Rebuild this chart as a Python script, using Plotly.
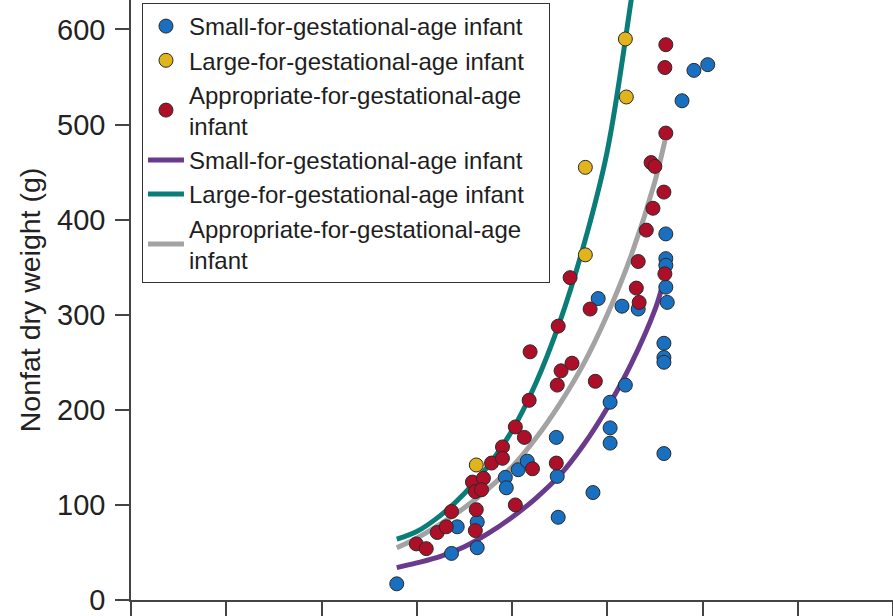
import plotly.graph_objects as go

# ---- data (gestational age in weeks, nonfat dry weight in g) ----
sga_x = [29.58, 30.73, 30.85, 31.27, 31.27, 31.86, 31.88, 32.13, 32.32, 32.93, 32.95, 32.97,
         33.70, 34.06, 34.06, 34.06, 34.38, 33.81, 34.31, 34.65, 35.23, 35.23, 35.23, 35.23,
         35.26, 35.19, 35.19, 35.19, 35.19, 35.57, 35.82, 36.11]
sga_y = [17, 49, 77, 55, 82, 129, 118, 137, 146, 171, 130, 87,
         113, 208, 181, 165, 226, 317, 309, 306, 385, 359, 352, 329,
         313, 270, 255, 250, 154, 525, 557, 563]

lga_x = [31.25, 33.54, 33.54, 34.38, 34.40]
lga_y = [142, 363, 455, 590, 529]

aga_x = [29.99, 30.20, 30.43, 30.62, 30.73, 31.17, 31.40, 31.23, 31.36, 31.25, 31.23, 31.57,
         31.80, 31.80, 32.07, 32.07, 32.26, 32.36, 32.43, 32.93, 32.38, 32.97, 33.03, 33.26,
         32.95, 33.22, 33.64, 33.75, 34.67, 34.61, 34.65, 34.82, 34.96, 34.92, 35.00, 35.19,
         35.21, 35.23, 35.21, 35.23]
aga_y = [59, 54, 71, 77, 93, 124, 128, 114, 116, 95, 73, 144,
         161, 149, 100, 182, 171, 210, 138, 144, 261, 288, 241, 249,
         226, 339, 306, 230, 313, 328, 356, 389, 412, 460, 456, 429,
         343, 491, 560, 584]

sga_curve_x = [29.58, 30.0, 30.5, 31.0, 31.5, 32.0, 32.5, 33.0, 33.5, 34.0, 34.5, 35.0, 35.15]
sga_curve_y = [34, 39, 46, 56, 70, 87, 107, 131, 163, 202, 248, 305, 329]

lga_curve_x = [29.58, 30.0, 30.5, 31.0, 31.5, 32.0, 32.5, 33.0, 33.5, 34.0, 34.5, 34.7]
lga_curve_y = [64, 72, 89, 112, 141, 178, 228, 292, 372, 472, 630, 700]

aga_curve_x = [29.58, 30.0, 30.5, 31.0, 31.5, 32.0, 32.5, 33.0, 33.5, 34.0, 34.5, 35.0, 35.21]
aga_curve_y = [55, 65, 80, 97, 117, 140, 170, 206, 248, 300, 362, 440, 483]

PAD = "&nbsp;&nbsp;&nbsp;"
names = ["Small-for-gestational-age infant" + PAD,
         "Large-for-gestational-age infant" + PAD,
         "Appropriate-for-gestational-age<br>infant"]

x_ticks = [24, 26, 28, 30, 32, 34, 36, 38, 40]
y_ticks = [0, 100, 200, 300, 400, 500, 600]

BLUE = "#1a70c0"
GOLD = "#e2b41c"
RED = "#ad0f29"
PURPLE = "#6a3b8c"
TEAL = "#0b7d78"
GREY = "#a3a3a3"

fig = go.Figure()

# curves first (drawn beneath markers)
for cx, cy, col, nm, rk in [(sga_curve_x, sga_curve_y, PURPLE, names[0], 4),
                            (lga_curve_x, lga_curve_y, TEAL, names[1], 5),
                            (aga_curve_x, aga_curve_y, GREY, names[2], 6)]:
    fig.add_trace(go.Scatter(x=cx, y=cy, mode="lines", name=nm, legendrank=rk,
                             line=dict(color=col, width=5, shape="spline")))

for px, py, col, nm, rk in [(sga_x, sga_y, BLUE, names[0], 1),
                            (lga_x, lga_y, GOLD, names[1], 2),
                            (aga_x, aga_y, RED, names[2], 3)]:
    fig.add_trace(go.Scatter(x=px, y=py, mode="markers", name=nm, legendrank=rk,
                             marker=dict(color=col, size=14,
                                         line=dict(color="#2a2a2a", width=1))))

fig.update_layout(
    width=893, height=616,
    margin=dict(l=131, r=0, t=0, b=16, autoexpand=False),
    paper_bgcolor="white", plot_bgcolor="white",
    font=dict(family="Liberation Sans, Arial, sans-serif", color="#222222"),
    showlegend=True,
    legend=dict(x=0.0144, y=0.995, xanchor="left", yanchor="top",
                bgcolor="white", bordercolor="#333333", borderwidth=1,
                font=dict(size=24, color="#1e1e1e"),
                itemsizing="trace", itemwidth=36),
    xaxis=dict(range=[24, 40], tickvals=x_ticks, showticklabels=False, automargin=False,
               showgrid=False, zeroline=False, showline=True,
               linecolor="#444444", linewidth=1.5,
               ticks="outside", ticklen=16, tickwidth=1.5, tickcolor="#444444"),
    yaxis=dict(range=[0, 631], tickvals=y_ticks, showgrid=False, zeroline=False,
               automargin=False, ticklabeloverflow="allow",
               showline=True, linecolor="#444444", linewidth=1.5,
               ticks="outside", ticklen=14, tickwidth=1.5, tickcolor="#444444",
               tickfont=dict(size=29), ticklabelstandoff=4,
               title=dict(text="Nonfat dry weight (g)", font=dict(size=28.5), standoff=8)),
)

fig.write_html("out.html", config={"displayModeBar": False},
               post_script="document.body.style.margin='0';document.body.style.padding='0';")
